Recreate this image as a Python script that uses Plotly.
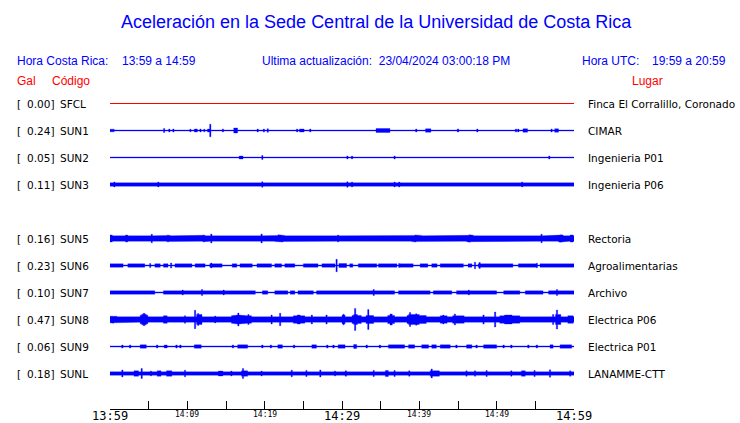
import plotly.graph_objects as go

# ---------------- data ----------------
codes = ["SFCL", "SUN1", "SUN2", "SUN3", "SUN5", "SUN6", "SUN7", "SUN8", "SUN9", "SUNL"]
gal = ["0.00", "0.24", "0.05", "0.11", "0.16", "0.23", "0.10", "0.47", "0.06", "0.18"]
places = ["Finca El Corralillo, Coronado", "CIMAR", "Ingenieria P01", "Ingenieria P06",
          "Rectoria", "Agroalimentarias", "Archivo", "Electrica P06", "Electrica P01", "LANAMME-CTT"]
rows = [0, 1, 2, 3, 5, 6, 7, 8, 9, 10]   # SUN4 slot is empty

tick_minutes = [0, 5, 10, 15, 20, 25, 30, 35, 40, 45, 50, 55, 60]
label_minutes = [0, 10, 20, 30, 40, 50, 60]
label_text = ["13:59", "14:09", "14:19", "14:29", "14:39", "14:49", "14:59"]
label_major = [True, False, False, True, False, False, True]

# envelope amplitude (relative units) : base level and bursts (t_start_min, t_end_min, amplitude)
base_amp = {"SFCL": 0.0, "SUN1": 0.5, "SUN2": 0.5, "SUN3": 1.7, "SUN5": 2.7, "SUN6": 0.6,
            "SUN7": 0.6, "SUN8": 2.7, "SUN9": 0.6, "SUNL": 1.7}

sfcl_bursts = []
sun1_bursts = [(0, 0.55, 1.3), (7.0, 7.0, 2), (7.67, 7.67, 1.5), (8.2, 8.2, 1.5), (10.4, 10.4, 1.3),
               (10.9, 11.3, 1.5), (11.7, 11.7, 1.5), (12.2, 12.2, 1.3), (12.6, 12.9, 1.5),
               (12.97, 12.97, 6.3), (14.6, 14.6, 1.5), (14.9, 14.9, 1), (16.0, 16.5, 2.5),
               (19.1, 19.1, 1.5), (19.9, 19.9, 1.5), (20.4, 20.4, 1.8), (20.7, 20.7, 1),
               (24.2, 24.2, 1.5), (24.5, 25.1, 1.5), (25.5, 25.5, 1), (25.9, 25.9, 1.5),
               (34.4, 36.2, 2), (35.1, 35.1, 2.7), (39.1, 39.1, 1), (39.6, 39.6, 1.5),
               (40.5, 40.5, 1.2), (40.8, 41.5, 1.7), (41.9, 41.9, 1.2), (44.9, 45.1, 1.5),
               (47.5, 47.5, 1.5), (50.3, 50.3, 1), (51.3, 51.3, 1), (52.5, 52.5, 1.5),
               (52.8, 52.8, 1.5), (53.4, 54.0, 1.7), (54.2, 54.2, 1), (54.6, 54.6, 1),
               (57.1, 57.1, 1.5), (57.5, 58.0, 1.7), (58.5, 58.5, 1), (59.1, 59.1, 1)]
sun2_bursts = [(16.7, 17.2, 1.5), (18.0, 18.0, 1), (19.7, 19.7, 2), (20.6, 20.6, 1), (26.6, 26.6, 1),
               (30.7, 30.7, 1.5), (31.3, 31.3, 1.5), (36.8, 36.8, 1.5), (39.7, 39.7, 1),
               (53.3, 53.3, 1), (56.8, 56.8, 1.5), (58.6, 58.6, 1)]
sun3_bursts = [(0.56, 0.56, 2.5), (6.25, 6.25, 2.5), (19.7, 19.7, 2.7), (20.1, 20.1, 2.2),
               (22.8, 22.8, 2.2), (30.7, 30.7, 2.8), (31.3, 31.3, 2.5), (35.3, 35.3, 2.2),
               (36.8, 36.8, 2.5), (37.4, 37.4, 2.5), (53.3, 53.3, 2.5), (59.5, 59.5, 2.2)]
sun5_bursts = [(0, 0.3, 3.5), (2.0, 2.3, 3.5), (3.7, 3.7, 3.3), (5.4, 5.4, 4.3), (7.3, 7.8, 3.1),
               (7.5, 7.5, 3.5), (9.3, 9.3, 3), (10.8, 10.8, 3.3), (12.0, 12.3, 3.2), (12.1, 12.1, 3.6),
               (13.1, 13.1, 4.5), (14.7, 14.7, 3.3), (16.2, 16.2, 3), (19.6, 19.6, 4.5),
               (21.3, 22.6, 3.1), (21.8, 21.8, 3.8), (22.3, 22.3, 3.5), (23.9, 24.6, 3.1),
               (24.2, 24.2, 3.4), (26.5, 26.5, 3), (29.5, 29.5, 3.5), (30.2, 30.2, 3.3),
               (31.9, 32.8, 3.1), (32.4, 32.4, 3.4), (34.3, 34.3, 3.3), (35.3, 36.6, 3.1),
               (35.9, 35.9, 3.4), (37.5, 37.9, 3.2), (39.0, 40.3, 3.1), (39.5, 39.5, 3.6),
               (42.2, 42.2, 3), (46.1, 47.0, 3.2), (46.5, 46.5, 3.8), (48.7, 48.7, 3.3),
               (50.0, 50.0, 3), (52.6, 53.5, 3.1), (53.0, 53.0, 3.4), (55.8, 55.8, 4.3),
               (58.0, 58.6, 3.4), (58.3, 58.3, 3.8), (59.5, 59.9, 3.6), (59.7, 59.7, 4)]
sun6_bursts = [(0, 1.7, 1.7), (2.3, 4.5, 1.7), (5.2, 5.2, 2), (5.8, 6.5, 1.7), (6.9, 7.5, 1.7),
               (7.9, 7.9, 2.5), (8.4, 10.6, 1.7), (11.0, 12.3, 1.7), (12.9, 14.5, 1.7),
               (13.1, 13.1, 2.5), (15.8, 16.4, 1.7), (16.8, 18.4, 1.7), (19.0, 20.9, 1.7),
               (21.3, 22.2, 1.7), (22.6, 23.9, 1.7), (25.0, 26.9, 1.7), (27.4, 29.1, 1.7),
               (29.3, 29.3, 6.2), (29.6, 30.6, 2), (31.0, 31.4, 1.7), (32.1, 34.5, 1.7),
               (34.7, 37.1, 1.7), (37.4, 37.4, 2), (37.5, 39.2, 1.7), (40.1, 41.1, 1.7),
               (41.6, 42.3, 1.7), (42.7, 45.7, 1.7), (46.3, 46.8, 1.7), (47.2, 47.2, 3.3),
               (47.6, 52.1, 1.7), (47.8, 47.8, 3), (52.8, 55.2, 1.7), (55.2, 55.2, 2.3),
               (55.6, 60, 1.7)]
sun7_bursts = [(0, 5.8, 1.7), (6.9, 18.8, 1.7), (19.7, 20.4, 1.7), (21.3, 23.0, 1.7),
               (23.3, 23.9, 1.7), (24.3, 26.3, 1.7), (26.7, 36.8, 1.7), (37.3, 41.4, 1.7),
               (41.8, 44.2, 1.7), (44.8, 50.0, 1.7), (50.9, 53.0, 1.7), (53.7, 56.0, 1.7),
               (56.7, 60, 1.7), (0.2, 0.2, 2.3), (4.1, 4.1, 2.3), (9.4, 9.4, 2.5), (11.9, 11.9, 3),
               (14.7, 14.7, 2.5), (18.3, 18.3, 2.3), (31.3, 31.3, 2.3), (34.1, 34.1, 3),
               (46.4, 46.4, 2.5), (51.3, 52.1, 2.3), (57.8, 57.8, 3)]
sun8_bursts = [(0, 0.9, 3.3), (0.4, 0.4, 3.8), (1.9, 2.6, 3.3), (3.9, 4.9, 4.3), (4.1, 4.7, 5.3),
               (4.3, 4.5, 6.2), (6.9, 7.4, 3.8), (7.1, 7.1, 4.5), (9.7, 9.7, 3.8),
               (11.0, 11.0, 9.2), (11.2, 11.9, 5), (11.4, 11.4, 6), (13.6, 13.6, 3.5),
               (15.7, 18.3, 3.8), (16.0, 17.5, 4.5), (16.6, 16.6, 6.5), (17.9, 17.9, 5),
               (20.9, 20.9, 4.5), (22.0, 22.0, 6.2), (23.7, 25.2, 3.7), (24.2, 24.6, 4.5),
               (26.1, 26.1, 4.5), (28.0, 28.0, 4.5), (30.0, 30.4, 4.3), (30.2, 30.2, 5.3),
               (31.3, 32.5, 4), (31.5, 32.0, 5), (31.7, 31.7, 11), (33.1, 34.1, 4),
               (33.4, 33.4, 10), (35.9, 36.8, 4), (36.2, 36.5, 5.5), (38.4, 40.9, 4),
               (38.6, 40.0, 5), (38.8, 38.8, 7), (39.6, 39.6, 5.8), (42.7, 43.6, 3.7),
               (43.1, 43.1, 4.5), (44.3, 45.8, 3.7), (44.6, 44.6, 5.5), (48.3, 48.3, 4.5),
               (49.8, 49.8, 7.5), (50.4, 53.0, 3.7), (51.0, 52.0, 4.5), (57.3, 57.3, 5),
               (57.6, 58.3, 5), (57.8, 57.8, 9.5), (59.2, 59.9, 3.8), (59.5, 59.5, 4.5)]
sun9_bursts = [(1.5, 1.7, 1.5), (2.5, 2.7, 1.5), (3.9, 4.7, 1.7), (6.0, 6.2, 1.5), (7.0, 7.4, 1.5),
               (8.5, 8.7, 1.5), (9.0, 9.2, 1.5), (10.9, 11.8, 1.7), (14.1, 14.3, 1.3),
               (15.8, 16.0, 1.5), (16.5, 17.8, 1.7), (19.6, 19.8, 1.5), (20.7, 20.9, 1.5),
               (21.7, 22.3, 1.7), (23.7, 23.9, 1.5), (26.1, 26.7, 1.7), (28.0, 28.2, 1.5),
               (28.8, 29.0, 1.5), (29.5, 30.4, 1.7), (31.5, 31.9, 2), (33.1, 33.3, 1.5),
               (34.8, 35.0, 1.5), (36.0, 38.1, 1.7), (38.6, 39.4, 1.7), (40.3, 41.2, 1.7),
               (41.6, 42.2, 1.7), (42.7, 44.0, 1.7), (44.7, 44.9, 1.5), (46.1, 46.8, 1.7),
               (47.3, 47.5, 1.5), (48.3, 50.0, 1.7), (50.8, 51.0, 1.5), (51.8, 52.0, 1.5),
               (54.0, 54.2, 1.5), (55.1, 55.3, 1.5), (56.9, 57.3, 1.7), (58.2, 59.7, 1.7)]
sunl_bursts = [(1.6, 1.6, 3.5), (3.1, 3.7, 2.7), (4.1, 4.1, 5), (5.3, 5.3, 2.5), (6.1, 6.6, 2.7),
               (7.3, 8.0, 2.7), (9.7, 9.7, 3.3), (14.0, 14.6, 2.5), (15.7, 15.7, 2.5),
               (17.0, 17.8, 2.7), (17.2, 17.2, 5), (19.6, 19.6, 2.5), (23.5, 23.5, 3.3),
               (25.4, 25.4, 3), (27.2, 27.2, 3.5), (29.1, 29.1, 2.5), (30.4, 30.6, 2.7),
               (34.1, 34.1, 3), (35.6, 36.0, 3), (36.8, 36.8, 3), (38.7, 38.7, 2.7),
               (41.4, 42.6, 2.7), (41.6, 41.6, 4.5), (46.1, 46.1, 2.7), (47.2, 47.2, 2.7),
               (48.7, 48.7, 3), (51.9, 51.9, 2.7), (53.2, 53.7, 2.7), (54.9, 54.9, 3),
               (56.9, 56.9, 3.7), (59.5, 59.5, 2.7)]

bursts = {"SFCL": sfcl_bursts, "SUN1": sun1_bursts, "SUN2": sun2_bursts, "SUN3": sun3_bursts,
          "SUN5": sun5_bursts, "SUN6": sun6_bursts, "SUN7": sun7_bursts, "SUN8": sun8_bursts,
          "SUN9": sun9_bursts, "SUNL": sunl_bursts}

# ---------------- layout constants ----------------
W, H = 740, 423
L_PX, R_PX, TOP_PX, BOT_PX = 110, 574, 90, 409
ROW0_PX, ROW_STEP = 103.5, 27
SPIKE_W = 0.17
BLUE = "#0000FF"
RED = "#FF0000"

y_top = -(ROW0_PX - TOP_PX) / ROW_STEP
y_bot = (BOT_PX - ROW0_PX) / ROW_STEP


def px_x(px):
    return (px - L_PX) / (R_PX - L_PX)


def px_y(py):
    return (BOT_PX - py) / (BOT_PX - TOP_PX)


def envelope(base, segs):
    segs2 = []
    for t0, t1, a in segs:
        if t1 - t0 < SPIKE_W:
            c = (t0 + t1) / 2
            t0, t1 = c - SPIKE_W / 2, c + SPIKE_W / 2
        segs2.append((max(0, t0), min(60, t1), a))
    bps = sorted(set([0, 60] + [s[0] for s in segs2] + [s[1] for s in segs2]))
    xs, amps = [], []
    for i in range(len(bps) - 1):
        m = (bps[i] + bps[i + 1]) / 2
        a = base
        for t0, t1, aa in segs2:
            if t0 <= m <= t1:
                a = max(a, aa)
        xs += [bps[i], bps[i + 1]]
        amps += [a, a]
    return xs, amps


fig = go.Figure()
for code, row in zip(codes, rows):
    color = RED if code == "SFCL" else BLUE
    xs, amps = envelope(base_amp[code], bursts[code])
    if max(amps) > 0.6:
        px_ = xs + xs[::-1] + [xs[0]]
        py_ = [row - a / ROW_STEP for a in amps] + [row + a / ROW_STEP for a in amps[::-1]] + [row - amps[0] / ROW_STEP]
        fig.add_trace(go.Scatter(x=px_, y=py_, mode="lines", fill="toself", fillcolor=color,
                                 line=dict(color=color, width=0.3), hoverinfo="skip", showlegend=False))
    fig.add_trace(go.Scatter(x=[0, 60], y=[row, row], mode="lines",
                             line=dict(color=color, width=1), hoverinfo="skip", showlegend=False))

ann = []
# title & headers
ann.append(dict(text="Aceleración en la Sede Central de la Universidad de Costa Rica", x=px_x(376), y=px_y(22),
                xanchor="center", yanchor="middle", font=dict(family="Liberation Sans", size=18, color=BLUE)))
ann.append(dict(text="Hora Costa Rica:", x=px_x(15), y=px_y(61), xanchor="left", yanchor="middle",
                font=dict(family="Liberation Sans", size=12, color=BLUE)))
ann.append(dict(text="13:59 a 14:59", x=px_x(120), y=px_y(61), xanchor="left", yanchor="middle",
                font=dict(family="Liberation Sans", size=12, color=BLUE)))
ann.append(dict(text="Ultima actualización:  23/04/2024 03:00:18 PM", x=px_x(260), y=px_y(61),
                xanchor="left", yanchor="middle", font=dict(family="Liberation Sans", size=12, color=BLUE)))
ann.append(dict(text="Hora UTC:", x=px_x(580), y=px_y(61), xanchor="left", yanchor="middle",
                font=dict(family="Liberation Sans", size=12, color=BLUE)))
ann.append(dict(text="19:59 a 20:59", x=px_x(650), y=px_y(61), xanchor="left", yanchor="middle",
                font=dict(family="Liberation Sans", size=12, color=BLUE)))
ann.append(dict(text="Gal", x=px_x(15), y=px_y(81), xanchor="left", yanchor="middle",
                font=dict(family="Liberation Sans", size=12, color=RED)))
ann.append(dict(text="Código", x=px_x(50), y=px_y(81), xanchor="left", yanchor="middle",
                font=dict(family="Liberation Sans", size=12, color=RED)))
ann.append(dict(text="Lugar", x=px_x(630), y=px_y(81), xanchor="left", yanchor="middle",
                font=dict(family="Liberation Sans", size=12, color=RED)))
for a in ann:
    a.update(xref="paper", yref="paper", showarrow=False)

lab_font = dict(family="DejaVu Sans", size=10.5, color="black")
for code, g, place, row in zip(codes, gal, places, rows):
    ann.append(dict(text="[", x=px_x(15), y=row, xref="paper", yref="y", xanchor="left", yanchor="middle",
                    showarrow=False, font=lab_font))
    ann.append(dict(text=g + "]", x=px_x(56), y=row, xref="paper", yref="y", xanchor="right", yanchor="middle",
                    showarrow=False, font=lab_font))
    ann.append(dict(text=code, x=px_x(58), y=row, xref="paper", yref="y", xanchor="left", yanchor="middle",
                    showarrow=False, font=lab_font))
    ann.append(dict(text=place, x=px_x(586), y=row, xref="paper", yref="y", xanchor="left", yanchor="middle",
                    showarrow=False, font=lab_font))

for m, t, major in zip(label_minutes, label_text, label_major):
    ann.append(dict(text=t, x=m, y=px_y(416 if major else 414.5), xref="x", yref="paper", xanchor="center",
                    yanchor="middle", showarrow=False,
                    font=dict(family="DejaVu Sans Mono", size=12 if major else 8, color="black")))

fig.update_layout(
    width=W, height=H, margin=dict(l=L_PX, r=W - R_PX, t=TOP_PX, b=H - BOT_PX, pad=0),
    paper_bgcolor="white", plot_bgcolor="white", showlegend=False,
    xaxis=dict(range=[0, 60], tickvals=tick_minutes, ticks="inside", ticklen=8, tickcolor="black", tickwidth=1,
               showticklabels=False, showgrid=False, zeroline=False, showline=True, linecolor="black",
               linewidth=1, fixedrange=True),
    yaxis=dict(range=[y_bot, y_top], showticklabels=False, showgrid=False, zeroline=False, showline=False,
               ticks="", fixedrange=True),
    annotations=ann,
)

fig.write_html("out.html", config={"displayModeBar": False},
               post_script="document.body.style.margin='0';document.body.style.overflow='hidden';")
